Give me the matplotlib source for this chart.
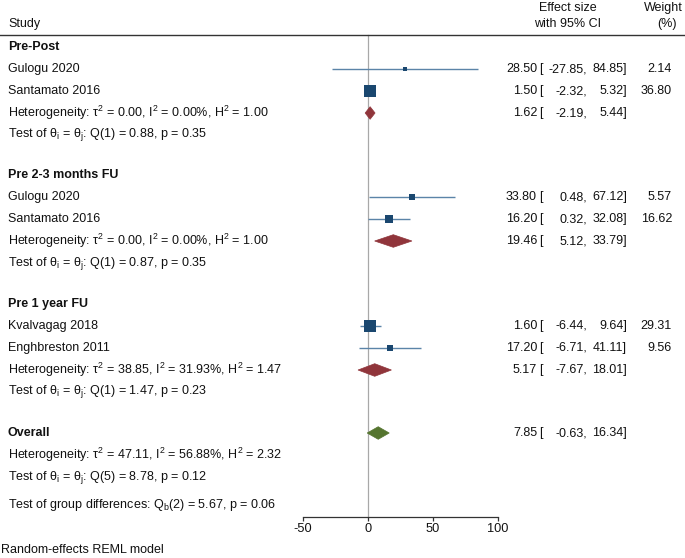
import matplotlib
matplotlib.use("Agg")
import matplotlib.pyplot as plt
from matplotlib.patches import Polygon
from matplotlib.transforms import blended_transform_factory
import numpy as np

plt.rcParams['font.family'] = ['Liberation Sans', 'DejaVu Sans']
plt.rcParams['mathtext.fontset'] = 'custom'
plt.rcParams['mathtext.rm'] = 'Liberation Sans'
plt.rcParams['mathtext.it'] = 'Liberation Sans:italic'
plt.rcParams['mathtext.bf'] = 'Liberation Sans:bold'

# ---------------- data ----------------
groups = ["Pre-Post", "Pre 2-3 months FU", "Pre 1 year FU"]
studies = [["Gulogu 2020", "Santamato 2016"],
           ["Gulogu 2020", "Santamato 2016"],
           ["Kvalvagag 2018", "Enghbreston 2011"]]
es = [[28.50, 1.50], [33.80, 16.20], [1.60, 17.20]]
ci_lo = [[-27.85, -2.32], [0.48, 0.32], [-6.44, -6.71]]
ci_hi = [[84.85, 5.32], [67.12, 32.08], [9.64, 41.11]]
weights = [[2.14, 36.80], [5.57, 16.62], [29.31, 9.56]]

group_es = [1.62, 19.46, 5.17]
group_lo = [-2.19, 5.12, -7.67]
group_hi = [5.44, 33.79, 18.01]
group_tau2 = [0.00, 0.00, 38.85]
group_i2 = [0.00, 0.00, 31.93]
group_h2 = [1.00, 1.00, 1.47]
group_q = [0.88, 0.87, 1.47]
group_df = [1, 1, 1]
group_p = [0.35, 0.35, 0.23]

overall_es, overall_lo, overall_hi = 7.85, -0.63, 16.34
overall_tau2, overall_i2, overall_h2 = 47.11, 56.88, 2.32
overall_q, overall_df, overall_p = 8.78, 5, 0.12
qb, qb_df, qb_p = 5.67, 2, 0.06

xticks = [-50, 0, 50, 100]

# ---------------- style ----------------
W, H = 685, 558
PX_PER_UNIT = 1.3
ZERO_PX = 368
FS = 9.0
C_SQ = '#1a476f'
C_CI = '#5b84a8'
C_GRP = '#90353b'
C_ALL = '#55752f'
C_TXT = '#111111'

fig = plt.figure(figsize=(W / 100, H / 100), dpi=100)
ax = fig.add_axes([0, 0, 1, 1])
ax.set_xlim(-ZERO_PX / PX_PER_UNIT, (W - ZERO_PX) / PX_PER_UNIT)
ax.set_ylim(H, 0)
for s in ['top', 'left', 'right']:
    ax.spines[s].set_visible(False)
ax.spines['bottom'].set_position(('data', 517))
ax.spines['bottom'].set_bounds(xticks[0], xticks[-1])
ax.spines['bottom'].set_linewidth(0.9)
ax.spines['bottom'].set_color('#333333')
ax.set_xticks(xticks)
ax.set_xticklabels([str(t) for t in xticks])
ax.tick_params(axis='x', direction='out', length=3, width=0.9, color='#333333',
               labelsize=FS + 0.2, pad=1.5, labelcolor=C_TXT)
ax.set_yticks([])
ax.patch.set_alpha(0)

tr = blended_transform_factory(ax.transAxes, ax.transData)


def txt(xpx, y, s, ha='left', **kw):
    ax.text(xpx / W, y, s, transform=tr, ha=ha, va='center', fontsize=FS,
            color=C_TXT, **kw)


def effect_text(y, e, lo, hi):
    txt(537, y, f"{e:.2f}", ha='right')
    txt(539, y, "[")
    txt(587, y, f"{lo:.2f},", ha='right')
    txt(627, y, f"{hi:.2f}]", ha='right')


def diamond(y, e, lo, hi, color, half_h=6.3):
    poly = Polygon([[lo, y], [e, y - half_h], [hi, y], [e, y + half_h]],
                   closed=True, facecolor=color, edgecolor=color, lw=0.5,
                   zorder=4)
    ax.add_patch(poly)


def het_text(t2, i2, h2):
    return (rf"Heterogeneity: τ$^{{2}}$ = {t2:.2f}, I$^{{2}}$ = {i2:.2f}%, "
            rf"H$^{{2}}$ = {h2:.2f}")


def test_text(df, q, p):
    return (rf"Test of θ$\mathregular{{_i}}$ = θ$\mathregular{{_j}}$: "
            rf"Q({df}) = {q:.2f}, p = {p:.2f}")


# header
txt(8, 24, "Study")
txt(568, 8, "Effect size", ha='center')
txt(568, 24, "with 95% CI", ha='center')
txt(683, 8, "Weight", ha='right')
txt(667, 24, "(%)", ha='center')
ax.plot([-ZERO_PX / PX_PER_UNIT, (W - ZERO_PX) / PX_PER_UNIT], [34.5, 34.5],
        color='#333333', lw=1.0, clip_on=False)

# reference line at 0
ax.plot([0, 0], [35, 517], color='#a8a8a8', lw=0.9, zorder=1)

group_top = [47, 175, 304]
ROW = 22
for g, name in enumerate(groups):
    y0 = group_top[g]
    txt(8, y0, name, fontweight='bold')
    for k, st in enumerate(studies[g]):
        y = y0 + ROW * (k + 1)
        txt(8, y, st)
        ax.plot([ci_lo[g][k], ci_hi[g][k]], [y, y], color=C_CI, lw=1.0,
                zorder=2, solid_capstyle='butt')
        side_px = 2.14 * np.sqrt(weights[g][k])
        ax.plot([es[g][k]], [y], marker='s', linestyle='none',
                markersize=side_px * 0.72, color=C_SQ, mec=C_SQ, mew=0,
                zorder=3)
        effect_text(y, es[g][k], ci_lo[g][k], ci_hi[g][k])
        txt(672, y, f"{weights[g][k]:.2f}", ha='right')
    yh = y0 + ROW * 3
    txt(8, yh, het_text(group_tau2[g], group_i2[g], group_h2[g]))
    diamond(yh, group_es[g], group_lo[g], group_hi[g], C_GRP)
    effect_text(yh, group_es[g], group_lo[g], group_hi[g])
    txt(8, y0 + ROW * 4, test_text(group_df[g], group_q[g], group_p[g]))

# overall
yo = 433
txt(8, yo, "Overall", fontweight='bold')
diamond(yo, overall_es, overall_lo, overall_hi, C_ALL)
effect_text(yo, overall_es, overall_lo, overall_hi)
txt(8, yo + ROW, het_text(overall_tau2, overall_i2, overall_h2))
txt(8, yo + 2 * ROW, test_text(overall_df, overall_q, overall_p))
txt(8, 505, rf"Test of group differences: Q$\mathregular{{_b}}$({qb_df}) = {qb:.2f}, p = {qb_p:.2f}")

txt(1, 550, "Random-effects REML model")

fig.savefig("out.png", dpi=100, facecolor='white')
